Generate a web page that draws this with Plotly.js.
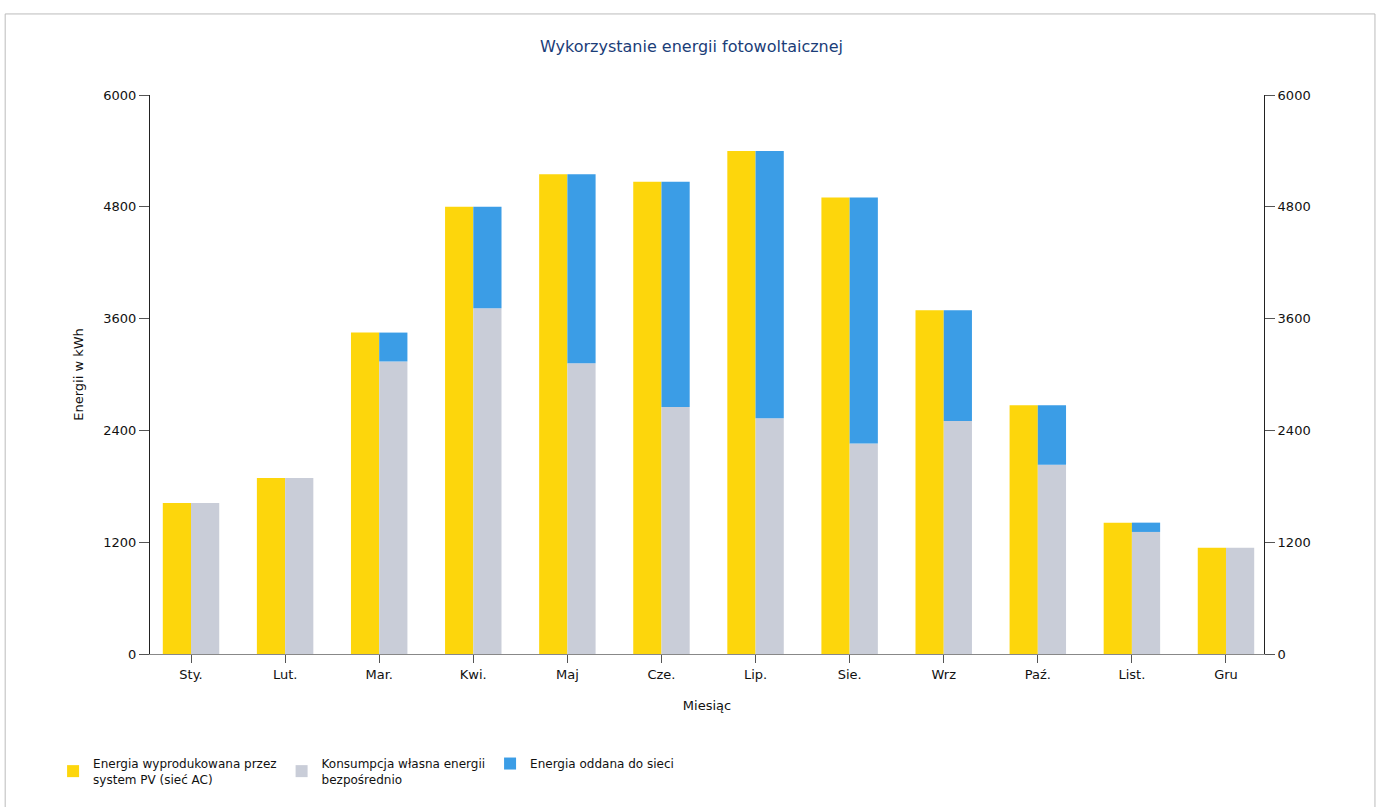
<!DOCTYPE html>
<html>
<head>
<meta charset="utf-8">
<script src="https://cdn.plot.ly/plotly-3.0.1.min.js"></script>
<style>html,body{margin:0;padding:0;background:#fff;}#chart{width:1383px;height:807px;}</style>
</head>
<body>
<div id="chart"></div>
<script>
var months = ["Sty.","Lut.","Mar.","Kwi.","Maj","Cze.","Lip.","Sie.","Wrz","Paź.","List.","Gru"];
var produced = [1620, 1890, 3450, 4800, 5150, 5070, 5400, 4900, 3690, 2670, 1410, 1140];
var selfUse  = [1620, 1890, 3140, 3710, 3120, 2650, 2530, 2260, 2500, 2030, 1310, 1140];
var exported = produced.map(function(p,i){ return p - selfUse[i]; });
var yTicks = [0, 1200, 2400, 3600, 4800, 6000];

var fontFam = "DejaVu Sans, Verdana, sans-serif";

var traces = [
  {type:"bar", name:"Energia wyprodukowana przez<br>system PV (sieć AC)", x:months, y:produced,
   offsetgroup:"a", marker:{color:"#fdd60c"}, hoverinfo:"y"},
  {type:"bar", name:"Konsumpcja własna energii<br>bezpośrednio", x:months, y:selfUse,
   offsetgroup:"b", marker:{color:"#c9cdd8"}, hoverinfo:"y"},
  {type:"bar", name:"Energia oddana do sieci", x:months, y:exported, base:selfUse,
   offsetgroup:"b", marker:{color:"#3b9de6"}, hoverinfo:"y"},
  {type:"scatter", x:months, y:produced, yaxis:"y2", mode:"none", showlegend:false, hoverinfo:"skip"}
];

var layout = {
  width:1383, height:807,
  margin:{l:150, r:119, t:95, b:153},
  paper_bgcolor:"#fff", plot_bgcolor:"#fff",
  font:{family:fontFam, size:13, color:"#111"},
  title:{text:"Wykorzystanie energii fotowoltaicznej", x:0.5, xanchor:"center", y:0.942, yanchor:"middle",
         font:{family:fontFam, size:16, color:"#1b3d78"}},
  barmode:"group", bargap:0.4, bargroupgap:0,
  xaxis:{type:"category", range:[-0.436, 11.404], showline:true, linecolor:"#888", linewidth:1,
         ticks:"outside", ticklen:8, tickcolor:"#555", showgrid:false, zeroline:false,
         tickfont:{size:13, color:"#111"},
         title:{text:"Miesiąc", standoff:20, font:{size:13, color:"#111"}}},
  yaxis:{range:[0,6000], tickvals:yTicks, ticktext:yTicks.map(String), showline:true, linecolor:"#222", linewidth:1,
         ticks:"outside", ticklen:10, tickcolor:"#555", showgrid:false, zeroline:false,
         tickfont:{size:13, color:"#111"},
         title:{text:"Energii w kWh", standoff:16, font:{size:13, color:"#111"}}},
  yaxis2:{overlaying:"y", side:"right", range:[0,6000], tickvals:yTicks, ticktext:yTicks.map(String),
          showline:true, linecolor:"#222", linewidth:1, ticks:"outside", ticklen:10, tickcolor:"#555",
          showgrid:false, zeroline:false, tickfont:{size:13, color:"#111"}},
  legend:{orientation:"h", x:-0.087, xanchor:"left", y:-0.17, yanchor:"top",
          font:{size:12, color:"#111"}, traceorder:"normal", itemwidth:30, bgcolor:"rgba(0,0,0,0)"},
  showlegend:true,
  shapes:[{type:"rect", xref:"paper", yref:"paper", x0:-0.130, x1:1.0996, y0:-0.28, y1:1.145,
           line:{color:"#bbb", width:1}}]
};

Plotly.newPlot("chart", traces, layout, {displayModeBar:false, staticPlot:true});
</script>
</body>
</html>
